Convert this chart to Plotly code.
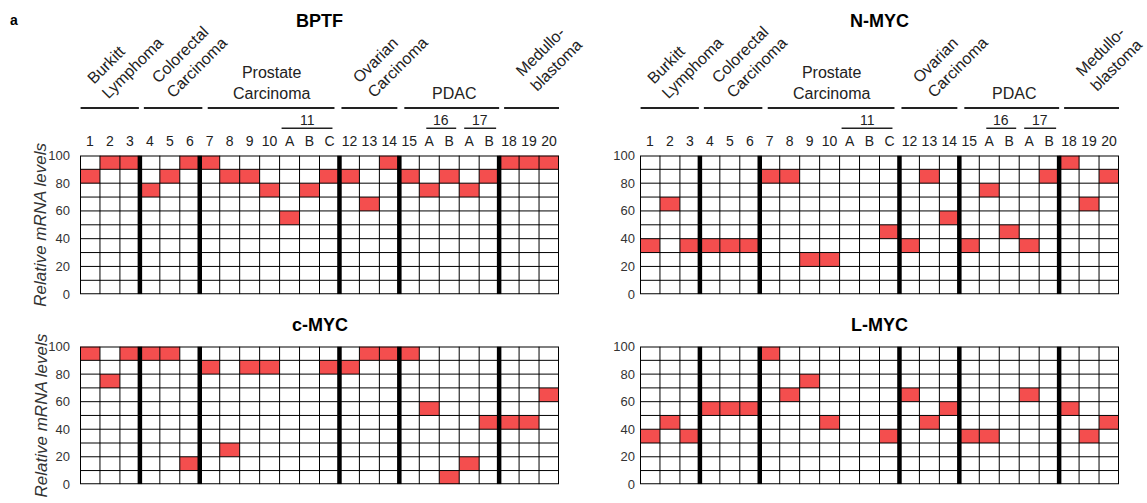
import plotly.graph_objects as go

# ---------------- data ----------------
columns = ["1", "2", "3", "4", "5", "6", "7", "8", "9", "10", "A", "B", "C",
           "12", "13", "14", "15", "A", "B", "A", "B", "18", "19", "20"]
# lower bound of the highlighted decile bin for each column (None = no red cell)
bptf = [80, 90, 90, 70, 80, 90, 90, 80, 80, 70, 50, 70, 80,
        80, 60, 90, 80, 70, 80, 70, 80, 90, 90, 90]
nmyc = [30, 60, 30, 30, 30, 30, 80, 80, 20, 20, None, None, 40,
        30, 80, 50, 30, 70, 40, 30, 80, 90, 60, 80]
cmyc = [90, 70, 90, 90, 90, 10, 80, 20, 80, 80, None, None, 80,
        80, 90, 90, 90, 50, 0, 10, 40, 40, 40, 60]
lmyc = [30, 40, 30, 50, 50, 50, 90, 60, 70, 40, None, None, 30,
        60, 40, 50, 30, 30, None, 60, None, 50, 30, 40]
groups = ["Burkitt<br>Lymphoma", "Colorectal<br>Carcinoma", "Prostate<br>Carcinoma",
          "Ovarian<br>Carcinoma", "PDAC", "Medullo-<br>blastoma"]
group_sizes = [3, 3, 7, 3, 5, 3]
subgroups = ["11", "16", "17"]
y_ticks = [0, 20, 40, 60, 80, 100]
y_title = "Relative mRNA levels"

# ---------------- layout constants ----------------
W, H = 1147, 503
RED = "#F44E4E"
FONT = "Liberation Sans, Arial, sans-serif"
BIN = 10


def fx(p):
    return p / W


def fy(p):
    return 1 - p / H


panels = [
    dict(title="BPTF", vals=bptf, xa="x", ya="y", xd=(80, 559), yd=(153, 296), head=True, ytitle=True, stand=9),
    dict(title="N-MYC", vals=nmyc, xa="x2", ya="y2", xd=(640, 1119), yd=(153, 296), head=True, ytitle=False, stand=4),
    dict(title="c-MYC", vals=cmyc, xa="x3", ya="y3", xd=(80, 559), yd=(350, 492), head=False, ytitle=True, stand=9),
    dict(title="L-MYC", vals=lmyc, xa="x4", ya="y4", xd=(640, 1119), yd=(350, 492), head=False, ytitle=False, stand=4),
]

# header geometry (column units / pixel y)
group_lines = [(0.03, 2.95), (3.2, 6.13), (6.4, 12.75), (13.1, 15.9), (16.25, 21.0), (21.25, 24.0)]
group_label_pos = [(2.3, 55, -45), (5.5, 55, -45), (9.6, 78, 0), (15.55, 55, -45), (18.75, 89, 0), (23.5, 53, -45)]
sub_lines = [(10.1, 12.65), (17.35, 18.85), (19.25, 20.85)]
separators = []
acc = 0
for s in group_sizes[:-1]:
    acc += s
    separators.append(acc)
ncol = len(columns)

fig = go.Figure()
shapes = []
annotations = []
layout_axes = {}

for p in panels:
    xs, bases = [], []
    for i, v in enumerate(p["vals"]):
        if v is not None:
            xs.append(i + 0.5)
            bases.append(v)
    fig.add_trace(go.Bar(
        x=xs, y=[BIN] * len(xs), base=bases, width=1,
        marker=dict(color=RED, line=dict(width=0)),
        xaxis=p["xa"], yaxis=p["ya"], showlegend=False, hoverinfo="skip"))

    xname = "xaxis" + p["xa"][1:]
    yname = "yaxis" + p["ya"][1:]
    layout_axes[xname] = dict(
        domain=[fx(p["xd"][0]), fx(p["xd"][1])], range=[0, ncol], anchor=p["ya"],
        showgrid=False, zeroline=False, showline=False, ticks="",
        side="top", tickmode="array",
        tickvals=[i + 0.5 for i in range(ncol)], ticktext=columns,
        showticklabels=p["head"], ticklabelstandoff=6,
        tickfont=dict(size=14, color="#222", family=FONT), fixedrange=True)
    layout_axes[yname] = dict(
        domain=[fy(p["yd"][1]), fy(p["yd"][0])], range=[0, 100], anchor=p["xa"],
        showgrid=False, zeroline=False, showline=False, ticks="",
        tickmode="array", tickvals=y_ticks, ticklabelstandoff=p["stand"],
        tickfont=dict(size=13, color="#333", family=FONT), fixedrange=True)

    xr, yr = p["xa"], p["ya"]
    # horizontal inner lines
    for k in range(1, 10):
        shapes.append(dict(type="line", xref=xr, yref=yr, x0=0, x1=ncol, y0=k * BIN, y1=k * BIN,
                           line=dict(color="black", width=1), layer="above"))
    # vertical inner lines
    for c in range(1, ncol):
        if c in separators:
            continue
        shapes.append(dict(type="line", xref=xr, yref=yr, x0=c, x1=c, y0=0, y1=100,
                           line=dict(color="black", width=1), layer="above"))
    for c in separators:
        shapes.append(dict(type="line", xref=xr, yref=yr, x0=c, x1=c, y0=0, y1=100,
                           line=dict(color="black", width=4.5), layer="above"))
    shapes.append(dict(type="rect", xref=xr, yref=yr, x0=0, x1=ncol, y0=0, y1=100,
                       line=dict(color="black", width=2), layer="above"))

    # panel title
    cx = (p["xd"][0] + p["xd"][1]) / 2
    ty = 14 if p["head"] else 328
    annotations.append(dict(text="<b>%s</b>" % p["title"], x=fx(cx), y=fy(ty), xref="paper", yref="paper",
                            showarrow=False, xanchor="center", yanchor="middle",
                            font=dict(size=18, color="black", family=FONT)))
    if p["ytitle"]:
        yc = (p["yd"][0] + p["yd"][1]) / 2
        annotations.append(dict(text="<i>%s</i>" % y_title, x=fx(41), y=fy(yc), xref="paper", yref="paper",
                                showarrow=False, textangle=-90, xanchor="center", yanchor="middle",
                                font=dict(size=17, color="#333", family=FONT)))
    if p["head"]:
        for (x0, x1) in group_lines:
            shapes.append(dict(type="line", xref=xr, yref="paper", x0=x0, x1=x1, y0=fy(104), y1=fy(104),
                               line=dict(color="#222", width=2)))
        for (gx, gy, ang), g in zip(group_label_pos, groups):
            annotations.append(dict(text=g, x=gx, y=fy(gy), xref=xr, yref="paper", showarrow=False,
                                    textangle=ang, xanchor="center", yanchor="middle",
                                    align="left" if ang else "center",
                                    font=dict(size=16, color="#222", family=FONT)))
        for (x0, x1), s in zip(sub_lines, subgroups):
            shapes.append(dict(type="line", xref=xr, yref="paper", x0=x0, x1=x1, y0=fy(125), y1=fy(125),
                               line=dict(color="#222", width=1.5)))
            annotations.append(dict(text=s, x=(x0 + x1) / 2, y=fy(116), xref=xr, yref="paper",
                                    showarrow=False, xanchor="center", yanchor="middle",
                                    font=dict(size=14, color="#222", family=FONT)))

annotations.append(dict(text="<b>a</b>", x=fx(14), y=fy(13), xref="paper", yref="paper", showarrow=False,
                        xanchor="center", yanchor="middle", font=dict(size=14, color="black", family=FONT)))

fig.update_layout(
    width=W, height=H, margin=dict(l=0, r=0, t=0, b=0),
    paper_bgcolor="white", plot_bgcolor="white",
    barmode="overlay", showlegend=False,
    font=dict(family=FONT),
    shapes=shapes, annotations=annotations,
    **layout_axes)

fig.write_html("out.html", config={"displayModeBar": False},
               post_script="document.body.style.margin='0';document.body.style.overflow='hidden';")
